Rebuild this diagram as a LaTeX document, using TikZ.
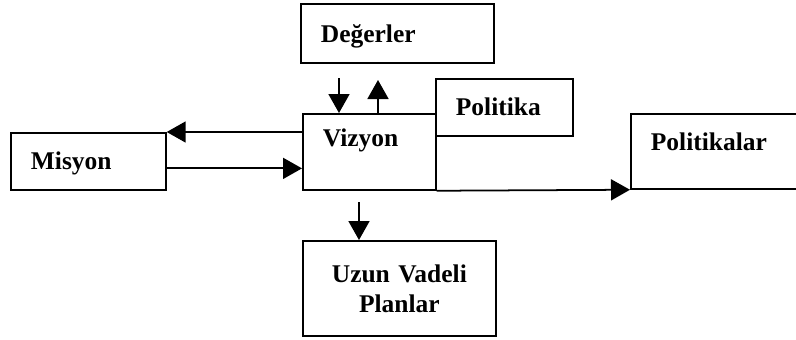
\documentclass[tikz,border=0pt]{standalone}
\usepackage{fontspec}
\setmainfont{Liberation Serif}
\usetikzlibrary{arrows.meta,calc}
\tikzset{
  kutu/.style={draw, line width=1pt, anchor=north west, inner xsep=0.4cm, inner ysep=0pt,
    align=left, font=\fontsize{14.5}{17}\selectfont\bfseries},
  ok/.style={line width=1pt, -{Triangle[length=0.38cm,width=0.42cm]}}
}
\begin{document}
\begin{tikzpicture}[x=0.02cm,y=-0.02cm]
    \useasboundingbox (0,0) rectangle (796,339);
    \clip (0,0) rectangle (796,339);
    \node[kutu, text width=3.06cm, text height=0.78cm, text depth=0.4cm] (Degerler) at (300,3) {Değerler};
    \node[kutu, text width=1.86cm, text height=0.66cm, text depth=0.86cm] (Vizyon) at (302,113) {Vizyon};
    \node[kutu, text width=1.94cm, text height=0.74cm, text depth=0.4cm] (Politika) at (435,78) {Politika};
    \node[kutu, text width=3.6cm, text height=0.74cm, text depth=0.76cm] (Politikalar) at (630,113) {Politikalar};
    \node[kutu, text width=2.3cm, text height=0.74cm, text depth=0.4cm] (Misyon) at (10,132) {Misyon};
    \node[kutu, text width=3.06cm, minimum height=1.9cm, align=center] (Planlar) at (302,240) {Uzun Vadeli\\Planlar};
    % free ends of the short arrows
    \coordinate (d1) at ($(Vizyon.north west)+(37,-35)$);
    \coordinate (d2) at ($(Vizyon.north west)+(76,-33)$);
    \coordinate (u1) at ($(Planlar.north west)+(57,-38)$);
    \draw[ok] (d1) -- (d1 |- Vizyon.north);
    \draw[ok] (d2 |- Vizyon.north) -- (d2);
    \draw[ok] (Vizyon.west |- Misyon.north east) -- (Misyon.north east);
    \draw[ok] ([yshift=-0.14cm]Misyon.east) -- ([yshift=-0.14cm]Misyon.east -| Vizyon.west);
    \draw[ok] (Vizyon.south east) -- (Politikalar.south west);
    \draw[ok] (u1) -- (u1 |- Planlar.north);
\end{tikzpicture}
\end{document}
